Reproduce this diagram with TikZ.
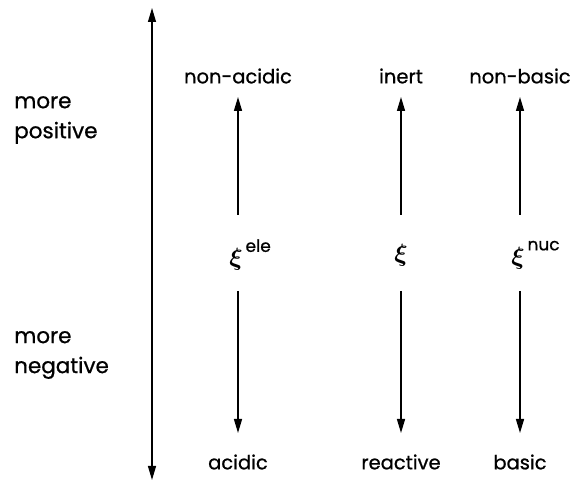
\documentclass[tikz,border=0pt]{standalone}
\usepackage{fontspec}
\setmainfont{Poppins}[FakeBold=0.8]
\usetikzlibrary{arrows.meta}
\newcommand{\myxi}{{\boldmath$\xi$}}
\begin{document}
\begin{tikzpicture}[x=1pt,y=-1pt,
  lbl/.style={font=\fontsize{19.5}{22}\selectfont, inner sep=0pt},
  side/.style={font=\fontsize{21.5}{30}\selectfont, inner sep=0pt, align=left, anchor=west},
  xinode/.style={font=\fontsize{33}{34}\selectfont, inner sep=0pt},
  arr/.style={-{Triangle[length=14pt,width=8pt]}, line width=1.4pt}]
\useasboundingbox (0,0) rectangle (587,486);
\coordinate (axtop) at (152,8);
\coordinate (axbot) at (152,480);
\draw[{Triangle[length=14pt,width=8pt]}-{Triangle[length=14pt,width=8pt]}, line width=1.1pt] (axtop) -- (axbot);
\node[side] (pos) at (14,120) {more\\positive};
\node[side] (neg) at (14,355) {more\\negative};

\node[lbl] (t1) at (238,76) {non-acidic};
\node[lbl] (t2) at (401,76) {inert};
\node[lbl] (t3) at (520,76) {non-basic};
\node[lbl] (b1) at (238,462) {acidic};
\node[lbl] (b2) at (401,462) {reactive};
\node[lbl] (b3) at (520,462) {basic};

\node[xinode] (x1) at (236,255) {\myxi\rlap{\raisebox{14pt}{\fontsize{17}{18}\selectfont\,ele}}};
\node[xinode] (x2) at (401,255) {\myxi};
\node[xinode] (x3) at (518,255) {\myxi\rlap{\raisebox{14pt}{\fontsize{17}{18}\selectfont\,nuc}}};

\foreach \i/\x in {1/238,2/401,3/520}{
  \coordinate (us\i) at (\x,215);
  \coordinate (ue\i) at (\x,97);
  \coordinate (ds\i) at (\x,291);
  \coordinate (de\i) at (\x,433);
  \draw[arr] (us\i) -- (ue\i);
  \draw[arr] (ds\i) -- (de\i);
}
\end{tikzpicture}
\end{document}
